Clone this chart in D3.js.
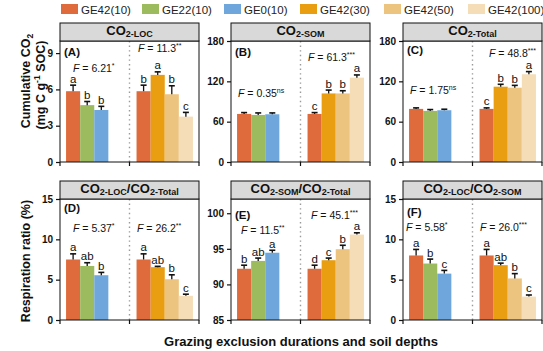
<!DOCTYPE html>
<html lang="en">
<head>
<meta charset="UTF-8">
<script src="https://d3js.org/d3.v7.min.js"></script>
<style>
    body, html {
        width: 100%;
        height: 100%;
        margin: 0;
        overflow: hidden;
        background: #fff;
        font-family: "Liberation Sans", Arial, sans-serif;
    }
</style>
</head>
<body>
<div id="chart"></div>
<script>
// ---- data ----
const seriesNames = ["GE42(10)", "GE22(10)", "GE0(10)", "GE42(30)", "GE42(50)", "GE42(100)"];
const seriesColors = ["#df6a3b", "#9cbb5f", "#6fa7dd", "#e89e10", "#edc47f", "#f5ddb7"];
// bars in every panel: 3 exclusion durations | 4 soil depths
const barSeries = ["GE42(10)", "GE22(10)", "GE0(10)", "GE42(10)", "GE42(30)", "GE42(50)", "GE42(100)"];

const panelIds = ["A", "B", "C", "D", "E", "F"];
const stripTitles = ["CO{2-LOC}", "CO{2-SOM}", "CO{2-Total}",
                     "CO{2-LOC}/CO{2-Total}", "CO{2-SOM}/CO{2-Total}", "CO{2-LOC}/CO{2-SOM}"];

const meanA = [5.85, 4.7, 4.3, 5.85, 7.2, 5.6, 3.75];
const errA  = [0.5, 0.3, 0.3, 0.5, 0.25, 0.7, 0.35];
const letA  = ["a", "b", "b", "b", "a", "b", "c"];

const meanB = [71.5, 70, 71, 71.5, 102, 102, 125.5];
const errB  = [2, 3, 2, 2, 5, 4, 4];
const letB  = ["", "", "", "c", "b", "b", "a"];

const meanC = [79, 76, 77, 79, 112, 110.5, 130.5];
const errC  = [1.5, 2, 1.5, 1.5, 3.6, 3.5, 4];
const letC  = ["", "", "", "c", "b", "b", "a"];

const meanD = [7.5, 6.7, 5.55, 7.5, 6.55, 5.05, 3.0];
const errD  = [0.7, 0.4, 0.35, 0.7, 0.1, 0.55, 0.2];
const letD  = ["a", "ab", "b", "a", "ab", "b", "c"];

const meanE = [92.2, 93.3, 94.45, 92.2, 93.4, 94.95, 97.0];
const errE  = [0.5, 0.4, 0.35, 0.5, 0.3, 0.55, 0.25];
const letE  = ["b", "ab", "a", "d", "c", "b", "a"];

const meanF = [8.0, 7.0, 5.75, 8.0, 6.8, 5.15, 2.9];
const errF  = [0.75, 0.55, 0.4, 0.75, 0.25, 0.6, 0.2];
const letF  = ["a", "b", "c", "a", "ab", "b", "c"];

// F statistics: [value, significance] for duration group and depth group
const fDuration = [["6.21", "*"], ["0.35", "ns"], ["1.75", "ns"], ["5.37", "*"], ["11.5", "**"], ["5.58", "*"]];
const fDepth    = [["11.3", "**"], ["61.3", "***"], ["48.8", "***"], ["26.2", "**"], ["45.1", "***"], ["26.0", "***"]];

const yDomains = [[0, 10], [0, 180], [0, 180], [0, 15], [85, 102], [0, 15]];
const yTicks = [[0, 3, 6, 9], [0, 60, 120, 180], [0, 60, 120, 180], [0, 5, 10, 15], [85, 90, 95, 100], [0, 5, 10, 15]];

const means = [meanA, meanB, meanC, meanD, meanE, meanF];
const errs = [errA, errB, errC, errD, errE, errF];
const letters = [letA, letB, letC, letD, letE, letF];

// ---- layout ----
const W = 543, H = 351;
const colX = [60, 231, 403], pw = 139;
const stripTop = [23, 181], stripH = 18, ph = 121;
// annotation placement (px from plot left / top)
const labelY = [11, 11, 9, 9, 16, 13];
const fPosLeft = [[13, 27], [7, 52], [7, 49], [13, 29], [10, 31], [3, 28]];
const fPosRight = [[78, 7], [77, 16], [86, 12], [77, 29], [80, 16], [77, 28]];

const color = d3.scaleOrdinal().domain(seriesNames).range(seriesColors);

const svg = d3.select("#chart").append("svg")
    .attr("width", W).attr("height", H);

// legend
const legendX = [61, 142, 224, 300, 384, 468];
const legend = svg.append("g");
seriesNames.forEach((s, i) => {
    const g = legend.append("g").attr("transform", `translate(${legendX[i]},4)`);
    g.append("rect").attr("width", 17).attr("height", 10).attr("fill", color(s));
    g.append("text").attr("x", 20).attr("y", 9.5)
        .style("font-size", "11.5px").attr("fill", "#222").text(s);
});

function richText(sel, str, big, small) {
    str.split(/(\{[^}]*\})/).filter(t => t.length).forEach(t => {
        if (t.startsWith("{")) {
            sel.append("tspan").style("font-size", small + "px").attr("dy", 2).text(t.slice(1, -1));
        } else {
            sel.append("tspan").style("font-size", big + "px").attr("dy", sel.selectAll("tspan").size() ? -2 : 0).text(t);
        }
    });
}

const slots = ["0", "1", "2", "g1", "g2", "3", "4", "5", "6"];
const barSlot = ["0", "1", "2", "3", "4", "5", "6"];
const x = d3.scaleBand().domain(slots).range([0, pw]).paddingInner(0).paddingOuter(0.43);

panelIds.forEach((id, p) => {
    const row = Math.floor(p / 3), col = p % 3;
    const px = colX[col], sTop = stripTop[row], pTop = sTop + stripH;
    const g = svg.append("g").attr("transform", `translate(${px},${pTop})`);

    // strip
    svg.append("rect").attr("x", px).attr("y", sTop).attr("width", pw).attr("height", stripH)
        .attr("fill", "#d9d9d9").attr("stroke", "#111").attr("stroke-width", 1);
    const st = svg.append("text").attr("x", px + pw / 2).attr("y", sTop + 14)
        .attr("text-anchor", "middle").style("font-weight", "bold").attr("fill", "#111");
    richText(st, stripTitles[p], 13, 9);

    const y = d3.scaleLinear().domain(yDomains[p]).range([ph, 0]);
    const base = yDomains[p][0];

    // bars
    const rows = barSeries.map((s, i) => ({s, i, m: means[p][i], e: errs[p][i], l: letters[p][i]}));
    g.selectAll(".bar").data(rows).enter().append("rect")
        .attr("x", d => x(barSlot[d.i]))
        .attr("y", d => y(d.m))
        .attr("width", x.bandwidth())
        .attr("height", d => y(base) - y(d.m))
        .attr("fill", d => color(d.s));

    // error bars (upper half)
    const eb = g.selectAll(".err").data(rows).enter().append("g");
    eb.append("line")
        .attr("x1", d => x(barSlot[d.i]) + x.bandwidth() / 2)
        .attr("x2", d => x(barSlot[d.i]) + x.bandwidth() / 2)
        .attr("y1", d => y(d.m)).attr("y2", d => y(d.m + d.e))
        .attr("stroke", "#111").attr("stroke-width", 1.3);
    eb.append("line")
        .attr("x1", d => x(barSlot[d.i]) + x.bandwidth() / 2 - 3)
        .attr("x2", d => x(barSlot[d.i]) + x.bandwidth() / 2 + 3)
        .attr("y1", d => y(d.m + d.e)).attr("y2", d => y(d.m + d.e))
        .attr("stroke", "#111").attr("stroke-width", 1.6);

    // letters
    g.selectAll(".let").data(rows.filter(d => d.l)).enter().append("text")
        .attr("x", d => x(barSlot[d.i]) + x.bandwidth() / 2)
        .attr("y", d => y(d.m + d.e) - 2.5)
        .attr("text-anchor", "middle")
        .style("font-size", "11.5px").attr("fill", "#111")
        .text(d => d.l);

    // separator
    g.append("line").attr("x1", pw / 2).attr("x2", pw / 2).attr("y1", 0).attr("y2", ph)
        .attr("stroke", "#999").attr("stroke-width", 1.4).attr("stroke-dasharray", "1.4,3.2");

    // frame
    g.append("rect").attr("width", pw).attr("height", ph)
        .attr("fill", "none").attr("stroke", "#111").attr("stroke-width", 1);

    // y axis
    const ya = g.append("g").call(d3.axisLeft(y).tickValues(yTicks[p]).tickSize(4).tickPadding(3));
    ya.select(".domain").remove();
    ya.selectAll("line").attr("stroke", "#111").attr("stroke-width", 1.2);
    ya.selectAll("text").style("font-size", "10px").style("font-weight", "bold")
        .style("font-family", "Liberation Sans, Arial, sans-serif").attr("fill", "#111");

    // x ticks: panel ends and the middle
    g.selectAll(".xt").data([0, pw / 2, pw]).enter().append("line")
        .attr("x1", d => d).attr("x2", d => d).attr("y1", ph).attr("y2", ph + 4)
        .attr("stroke", "#111").attr("stroke-width", 1.2);

    // panel label
    g.append("text").attr("x", 4).attr("y", labelY[p] + 4)
        .style("font-size", "11.5px").style("font-weight", "bold").attr("fill", "#111")
        .text(`(${id})`);

    // F statistics
    [[fDuration[p], fPosLeft[p]], [fDepth[p], fPosRight[p]]].forEach(([f, pos]) => {
        const t = g.append("text").attr("x", pos[0]).attr("y", pos[1] + 4)
            .style("font-size", "10.5px").attr("fill", "#111");
        t.append("tspan").style("font-style", "italic").text("F");
        t.append("tspan").text(` = ${f[0]}`);
        t.append("tspan").attr("dy", -4).style("font-size", "7px").text(f[1]);
    });
});

// y titles
const yt1 = svg.append("text").attr("transform", "translate(30,81) rotate(-90)")
    .attr("text-anchor", "middle").style("font-weight", "bold").attr("fill", "#111");
yt1.append("tspan").style("font-size", "12.5px").text("Cumulative CO");
yt1.append("tspan").style("font-size", "8.5px").attr("dy", 3).text("2");

const yt2 = svg.append("text").attr("transform", "translate(45,85) rotate(-90)")
    .attr("text-anchor", "middle").style("font-weight", "bold").attr("fill", "#111");
yt2.append("tspan").style("font-size", "12.5px").text("(mg C g");
yt2.append("tspan").style("font-size", "8.5px").attr("dy", -5).text("-1");
yt2.append("tspan").style("font-size", "12.5px").attr("dy", 5).text(" SOC)");

svg.append("text").attr("transform", "translate(30,261) rotate(-90)")
    .attr("text-anchor", "middle").style("font-weight", "bold").style("font-size", "12.5px")
    .attr("fill", "#111").text("Respiration ratio (%)");

// x title
svg.append("text").attr("x", 301).attr("y", 346).attr("text-anchor", "middle")
    .style("font-weight", "bold").style("font-size", "13px").attr("fill", "#111")
    .text("Grazing exclusion durations and soil depths");
</script>
</body>
</html>
